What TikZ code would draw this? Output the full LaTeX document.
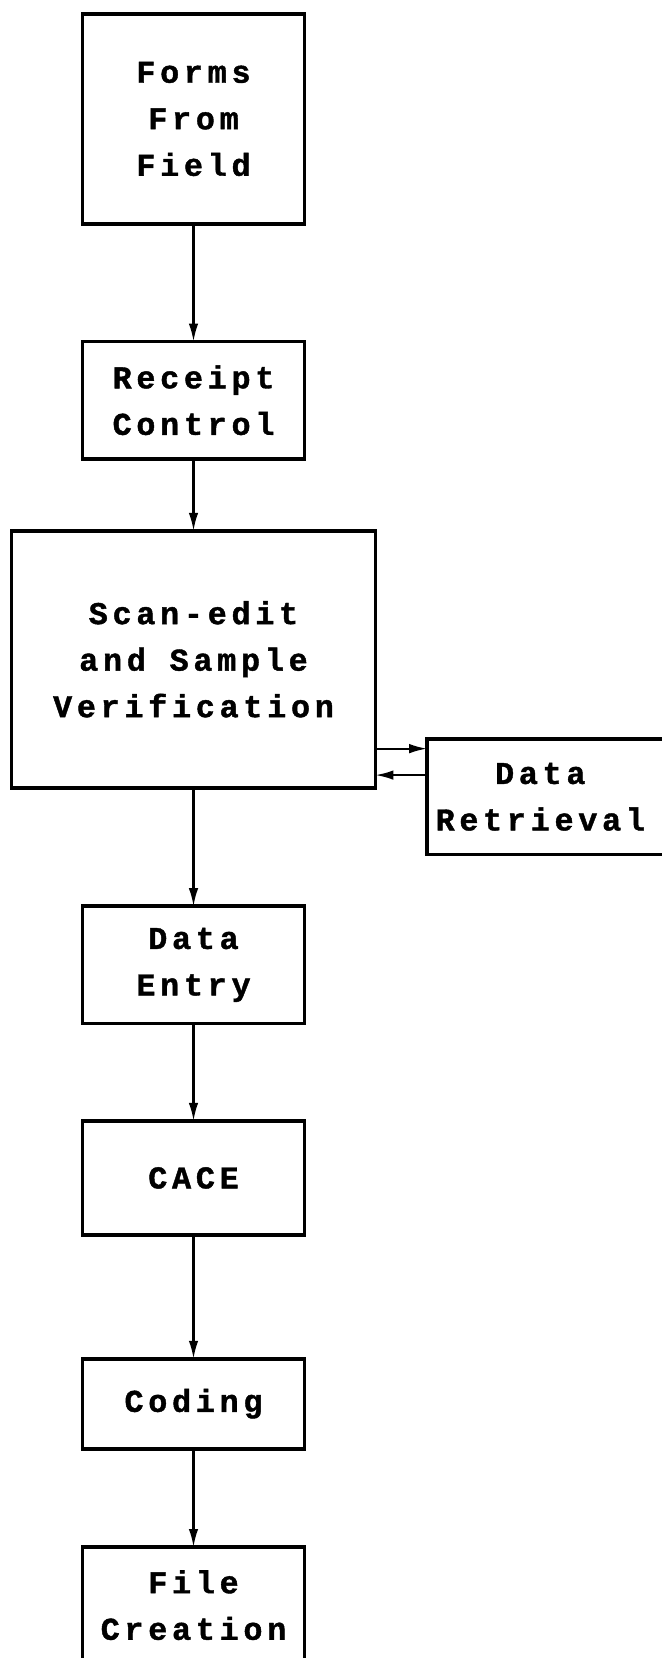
\documentclass[tikz,border=0pt]{standalone}
\usepackage{fontspec}
\newfontfamily\typefont{Liberation Mono}[LetterSpace=15, BoldFeatures={FakeBold=1.3}]
\usetikzlibrary{calc}
\usetikzlibrary{arrows.meta,positioning}
\tikzstyle{pbox}=[rectangle, draw, line width=3.5pt, align=center, minimum width=210pt, inner sep=0pt, outer sep=0pt, font=\typefont\bfseries\fontsize{30}{44}\selectfont]
\tikzstyle{ptext}=[rectangle, align=center, inner sep=0pt, outer sep=0pt, font=\typefont\bfseries\fontsize{30}{44}\selectfont]
\tikzstyle{flow}=[-{Latex[length=17pt,width=9pt]}, line width=2pt]

\begin{document}
\begin{tikzpicture}[x=1pt,y=1pt]
\useasboundingbox (0,0) rectangle (626,-1568);
% main column
\node[pbox, minimum height=199pt, anchor=north] (forms) at (183,-13) {Forms\\From\\Field};
\node[pbox, minimum height=111pt, below=111pt of forms] (receipt) {Receipt\\Control};
\node[pbox, minimum width=344pt, minimum height=243pt, below=68pt of receipt] (scan) {Scan-edit\\and Sample\\Verification};
\node[pbox, minimum height=111pt, below=112pt of scan] (entry) {Data\\Entry};
\node[pbox, minimum height=108pt, below=92pt of entry] (cace) {CACE};
\node[pbox, minimum height=85pt, below=117pt of cace] (coding) {Coding};
\node[pbox, minimum height=110pt, below=93pt of coding] (filecr) {File\\Creation};
% side box, open on the right
\node[ptext, minimum width=214pt, minimum height=109pt, anchor=north west] (retr) at (404,-699) {Data\\Retrieval};
\draw[line width=3.5pt] ($(retr.north east)+(40,0)$) -- (retr.north west) -- (retr.south west) -- ($(retr.south east)+(40,0)$);

\draw[flow] (forms) -- (receipt);
\draw[flow] (receipt) -- (scan);
\draw[flow] (scan) -- (entry);
\draw[flow] (entry) -- (cace);
\draw[flow] (cace) -- (coding);
\draw[flow] (coding) -- (filecr);

\coordinate (up) at ([yshift=-9pt]retr.north west);
\coordinate (dn) at ([yshift=-34pt]retr.north west);
\draw[flow] (up -| scan.east) -- (up);
\draw[flow] (dn) -- (dn -| scan.east);
\end{tikzpicture}
\end{document}
